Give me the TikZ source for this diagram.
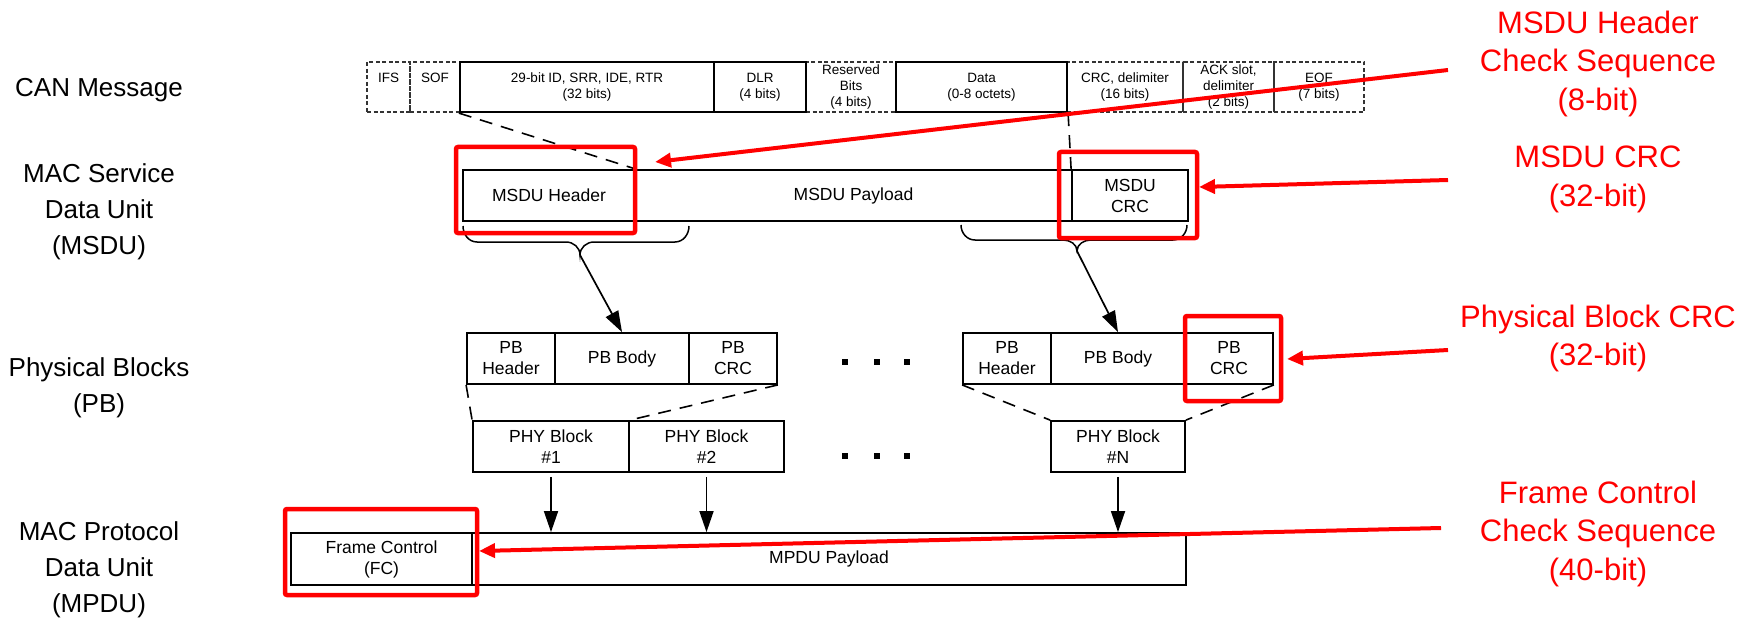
\documentclass[tikz,border=0pt]{standalone}
\usepackage{fontspec}
\setmainfont{Liberation Sans}
\usetikzlibrary{arrows.meta}
\definecolor{hired}{RGB}{255,0,0}
\tikzset{
  canbase/.style={rectangle, inner sep=0pt, align=center, minimum height=50pt,
    font=\fontsize{13.5}{16}\selectfont},
  candash/.style={canbase, draw=black!80, line width=1.3pt, dash pattern=on 4pt off 2.5pt},
  cansolid/.style={canbase, draw=black, line width=2.2pt},
  blkbox/.style={rectangle, draw=black, line width=1.8pt, inner sep=0pt, align=center,
    minimum height=51pt, font=\fontsize{17.5}{21}\selectfont},
  redbox/.style={rectangle, draw=hired, line width=4.5pt, rounded corners=2pt, inner sep=0pt},
  lbl/.style={align=center, inner sep=0pt, font=\fontsize{26}{36}\selectfont},
  redlbl/.style={align=center, inner sep=0pt, text=hired, font=\fontsize{31}{38.5}\selectfont},
  dashline/.style={draw=black, line width=1.6pt, dash pattern=on 13pt off 9pt},
  bracepath/.style={draw=black, line width=1.5pt},
  blkarrow/.style={draw=black, line width=1.7pt, -{Triangle[length=21pt,width=14pt]}},
  redarrow/.style={draw=hired, line width=4pt, -{Triangle[length=16pt,width=14pt]}},
}
\begin{document}
\begin{tikzpicture}[x=1pt,y=-1pt]
\fill[white] (0,0) rectangle (1756,623);
\useasboundingbox (0,0) rectangle (1756,623);

% left labels
\node[lbl] (lcan) at (99,90) {CAN Message};
\node[lbl] (lmsdu) at (99,212) {MAC Service\\Data Unit\\(MSDU)};
\node[lbl] (lpb) at (99,388) {Physical Blocks\\(PB)};
\node[lbl] (lmpdu) at (99,570) {MAC Protocol\\Data Unit\\(MPDU)};

% CAN message row
\node[candash, minimum width=43pt] (ifs) at (388.5,87) {\strut IFS\\\strut};
\node[candash, minimum width=50pt] (sof) at (435,87) {\strut SOF\\\strut};
\node[candash, minimum width=90pt] (res) at (851,87) {Reserved\\Bits\\(4 bits)};
\node[candash, minimum width=116pt] (crc) at (1125,87) {CRC, delimiter\\(16 bits)};
\node[candash, minimum width=91pt] (ack) at (1228.5,87) {ACK slot,\\delimiter\\(2 bits)};
\node[candash, minimum width=90pt] (eof) at (1319,87) {EOF\\(7 bits)};
\node[cansolid, minimum width=254pt] (id) at (587,87) {29-bit ID, SRR, IDE, RTR\\(32 bits)};
\node[cansolid, minimum width=92pt] (dlr) at (760,87) {DLR\\(4 bits)};
\node[cansolid, minimum width=171pt] (data) at (981.5,87) {Data\\(0-8 octets)};

% MSDU row
\node[blkbox, minimum width=172pt] (hdr) at (549,195.5) {MSDU Header};
\node[blkbox, minimum width=437pt] (pay) at (853.5,195.5) {MSDU Payload};
\node[blkbox, minimum width=116pt] (mcrc) at (1130,195.5) {MSDU\\CRC};

% dashed links CAN -> MSDU
\draw[dashline] (id.south west) -- (hdr.north east);
\draw[dashline] (data.south east) -- (mcrc.north west);

% braces
\coordinate (tip1) at (580,255);
\coordinate (tip2) at (1077,251);
\draw[bracepath] (463,226) to[out=-90,in=180] (477,242) -- (566,242)
  to[out=0,in=90] (tip1) to[out=90,in=180] (594,242) -- (675,242) to[out=0,in=-90] (689,226);
\draw[bracepath] (961,225) to[out=-90,in=180] (975,240) -- (1063,240)
  to[out=0,in=90] (tip2) to[out=90,in=180] (1091,240) -- (1173,240) to[out=0,in=-90] (1187,225);

% PB rows
\node[blkbox, minimum width=88pt] (pbh1) at (511,358.5) {PB\\Header};
\node[blkbox, minimum width=134pt] (pbb1) at (622,358.5) {PB Body};
\node[blkbox, minimum width=88pt] (pbc1) at (733,358.5) {PB\\CRC};
\node[blkbox, minimum width=88pt] (pbh2) at (1007,358.5) {PB\\Header};
\node[blkbox, minimum width=134pt] (pbb2) at (1118,358.5) {PB Body};
\node[blkbox, minimum width=88pt] (pbc2) at (1229,358.5) {PB\\CRC};

\draw[blkarrow] (tip1) -- (pbb1.north);
\draw[blkarrow] (tip2) -- (pbb2.north);

% PHY blocks
\node[blkbox, minimum width=156pt] (phy1) at (551,446.5) {PHY Block\\\#1};
\node[blkbox, minimum width=155pt] (phy2) at (706.5,446.5) {PHY Block\\\#2};
\node[blkbox, minimum width=134pt] (phyn) at (1118,446.5) {PHY Block\\\#N};

\draw[dashline] (pbh1.south west) -- (phy1.north west);
\draw[dashline] (pbc1.south east) -- (phy1.north east);
\draw[dashline] (pbh2.south west) -- (phyn.north west);
\draw[dashline] (pbc2.south east) -- (phyn.north east);

% dots
\foreach \dx in {842,874,904} {
  \fill[black] (\dx,359) rectangle +(6,6);
  \fill[black] (\dx,453) rectangle +(6,6);
}

% MPDU row
\node[blkbox, minimum width=181pt, minimum height=52pt] (fc) at (381.5,559) {Frame Control\\(FC)};
\node[blkbox, minimum width=714pt, minimum height=52pt] (mpay) at (829,559) {MPDU Payload};

\draw[blkarrow, shorten <=4pt] (phy1.south) -- (phy1.south |- mpay.north);
\draw[blkarrow, shorten <=4pt] (phy2.south) -- (phy2.south |- mpay.north);
\draw[blkarrow, shorten <=4pt] (phyn.south) -- (phyn.south |- mpay.north);

% red highlight boxes
\node[redbox, minimum width=179pt, minimum height=86pt] (r1) at (545.5,190) {};
\node[redbox, minimum width=138pt, minimum height=86pt] (r2) at (1128,195) {};
\node[redbox, minimum width=96pt, minimum height=85pt] (r3) at (1233,358.5) {};
\node[redbox, minimum width=192pt, minimum height=86pt] (r4) at (381,552) {};

% red labels
\node[redlbl] (l1) at (1598,63.5) {MSDU Header\\Check Sequence\\(8-bit)};
\node[redlbl] (l2) at (1598,179.5) {MSDU CRC\\(32-bit)};
\node[redlbl] (l3) at (1598,338.5) {Physical Block CRC\\(32-bit)};
\node[redlbl] (l4) at (1598,533.5) {Frame Control\\Check Sequence\\(40-bit)};

% red arrows
\coordinate (s1) at (1448,70);  \coordinate (t1) at (655,162);
\coordinate (s2) at (1448,180); \coordinate (t2) at (1199,187);
\coordinate (s3) at (1448,350); \coordinate (t3) at (1287,359);
\coordinate (s4) at (1441,528); \coordinate (t4) at (479,551);
\draw[redarrow] (s1) -- (t1);
\draw[redarrow] (s2) -- (t2);
\draw[redarrow] (s3) -- (t3);
\draw[redarrow] (s4) -- (t4);
\end{tikzpicture}
\end{document}
